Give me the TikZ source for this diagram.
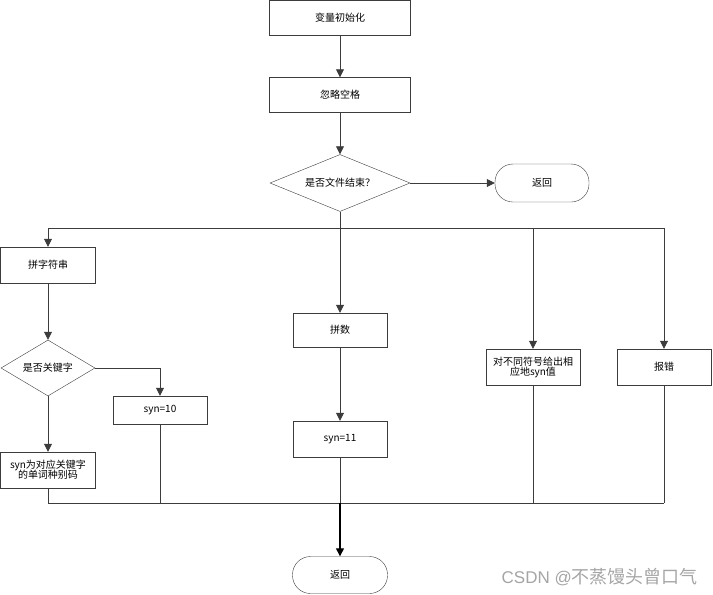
\documentclass[tikz,border=0pt]{standalone}
\usepackage{fontspec}
\setmainfont{Noto Sans CJK SC}
\newfontfamily\latinfont{Liberation Sans}
\definecolor{edge}{RGB}{60, 60, 60}
\definecolor{mark}{RGB}{165, 165, 165}
\usetikzlibrary{shapes.geometric, arrows.meta, positioning}
\tikzset{
    procbox/.style={
        rectangle,
        draw=edge,
        minimum width=94pt,
        minimum height=35pt,
        inner sep=2pt,
        align=center,
        font=\fontsize{10}{13}\selectfont
    },
    decision/.style={
        diamond,
        draw=edge,
        aspect=2.45,
        minimum width=140pt,
        minimum height=57pt,
        inner sep=0pt,
        align=center,
        font=\fontsize{10}{13}\selectfont
    },
    terminal/.style={
        rectangle,
        draw=edge,
        rounded corners=18pt,
        minimum width=94pt,
        minimum height=38pt,
        align=center,
        font=\fontsize{10}{13}\selectfont
    },
    linestyle/.style={edge, line width=0.8pt},
    arrowstyle/.style={-{Triangle[length=8pt, width=8pt]}, edge, line width=0.8pt}
}

\begin{document}
\begin{tikzpicture}[x=1pt, y=-1pt]
          \useasboundingbox (0,0) rectangle (713,595);
          \node[procbox, minimum width=141pt] (init) at (340,18) {变量初始化};
          \node[procbox, minimum width=141pt] (skip) at (340,95) {忽略空格};
          \node[decision] (eof) at (340,183) {是否文件结束？};
          \node[terminal] (ret1) at (542,183) {返回};
          \node[procbox, minimum width=95pt, minimum height=36pt] (word) at (48,265) {拼字符串};
          \node[decision, minimum width=94pt, minimum height=56pt, aspect=1.7] (iskw) at (48,368) {是否关键字};
          \node[procbox, minimum height=28pt] (syn10) at (160,410) {syn=10};
          \node[procbox, minimum width=95pt, minimum height=36pt] (kwcode) at (48,470) {syn为对应关键字\\[-3pt]的单词种别码};
          \node[procbox, minimum height=34pt] (num) at (340,330) {拼数};
          \node[procbox, minimum height=36pt] (syn11) at (340,439) {syn=11};
          \node[procbox, minimum height=36pt] (symbol) at (533,367) {对不同符号给出相\\[-3pt]应地syn值};
          \node[procbox, minimum height=36pt] (err) at (664,367) {报错};
          \node[terminal, minimum width=95pt, minimum height=37pt] (ret2) at (340,575) {返回};
          \node[anchor=east, text=mark, font=\fontsize{18}{20}\selectfont, inner sep=0pt] (wmark) at (698,577) {{\latinfont\fontsize{17}{20}\selectfont CSDN @}不蒸馒头曾口气};

          \coordinate (split) at (340,228);
          \coordinate (splitL) at (48,228);
          \coordinate (splitR) at (664,228);
          \coordinate (join) at (340,503);
          \coordinate (joinL) at (48,503);
          \coordinate (joinR) at (664,503);

          \draw[arrowstyle] (init) -- (skip);
          \draw[arrowstyle] (skip) -- (eof);
          \draw[arrowstyle] (eof) -- (ret1);
          \draw[linestyle] (eof) -- (split);
          \draw[linestyle] (splitL) -- (splitR);
          \draw[arrowstyle] (splitL) -- (word);
          \draw[arrowstyle] (split) -- (num);
          \draw[arrowstyle] (symbol |- split) -- (symbol);
          \draw[arrowstyle] (splitR) -- (err);
          \draw[arrowstyle] (word) -- (iskw);
          \draw[arrowstyle] (iskw) -- (kwcode);
          \draw[arrowstyle] (iskw.east) -| (syn10);
          \draw[arrowstyle] (num) -- (syn11);

          \draw[linestyle] (kwcode) -- (joinL) -- (joinR);
          \draw[linestyle] (syn10) -- (syn10 |- join);
          \draw[linestyle] (syn11) -- (join);
          \draw[linestyle] (symbol) -- (symbol |- join);
          \draw[linestyle] (err) -- (joinR);
          \draw[arrowstyle, black, line width=1.3pt] (join) -- (ret2);
        \end{tikzpicture}
\end{document}
